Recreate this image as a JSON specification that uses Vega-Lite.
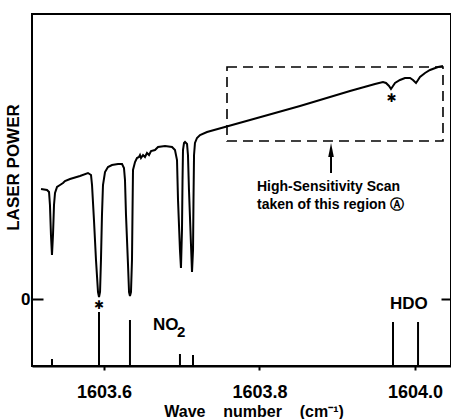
{
  "$schema": "https://vega.github.io/schema/vega-lite/v6.json",
  "autosize": "none",
  "width": 419,
  "height": 352,
  "padding": {"left": 32, "top": 14, "right": 0, "bottom": 53},
  "background": "white",
  "config": {
    "view": {"stroke": "black", "strokeWidth": 2},
    "font": "Liberation Sans",
    "axis": {"grid": false, "domainColor": "black", "domainWidth": 2, "tickColor": "black", "tickWidth": 2, "labelColor": "black", "titleColor": "black", "labelFont": "Liberation Sans", "titleFont": "Liberation Sans"}
  },
  "datasets": {
    "spectrum": [
      {"w": 1603.5190, "v": 110}, {"w": 1603.5267, "v": 109}, {"w": 1603.5293, "v": 107}, {"w": 1603.5305, "v": 94},
      {"w": 1603.5318, "v": 64}, {"w": 1603.5331, "v": 44}, {"w": 1603.5344, "v": 64}, {"w": 1603.5357, "v": 94},
      {"w": 1603.5370, "v": 106}, {"w": 1603.5396, "v": 112}, {"w": 1603.5434, "v": 114}, {"w": 1603.5473, "v": 116},
      {"w": 1603.5498, "v": 118}, {"w": 1603.5563, "v": 120}, {"w": 1603.5691, "v": 123}, {"w": 1603.5794, "v": 126},
      {"w": 1603.5833, "v": 124}, {"w": 1603.5846, "v": 114}, {"w": 1603.5871, "v": 79}, {"w": 1603.5897, "v": 39},
      {"w": 1603.5923, "v": 7}, {"w": 1603.5936, "v": 2}, {"w": 1603.5949, "v": 7}, {"w": 1603.5961, "v": 39},
      {"w": 1603.5974, "v": 84}, {"w": 1603.5987, "v": 114}, {"w": 1603.6013, "v": 127}, {"w": 1603.6051, "v": 132},
      {"w": 1603.6103, "v": 134}, {"w": 1603.6180, "v": 135}, {"w": 1603.6232, "v": 135}, {"w": 1603.6257, "v": 131},
      {"w": 1603.6270, "v": 119}, {"w": 1603.6283, "v": 84}, {"w": 1603.6309, "v": 34}, {"w": 1603.6322, "v": 7},
      {"w": 1603.6334, "v": 3}, {"w": 1603.6347, "v": 7}, {"w": 1603.6360, "v": 39}, {"w": 1603.6367, "v": 89},
      {"w": 1603.6373, "v": 129}, {"w": 1603.6399, "v": 137}, {"w": 1603.6424, "v": 141}, {"w": 1603.6450, "v": 142},
      {"w": 1603.6463, "v": 144}, {"w": 1603.6476, "v": 141}, {"w": 1603.6502, "v": 144}, {"w": 1603.6527, "v": 142},
      {"w": 1603.6553, "v": 146}, {"w": 1603.6579, "v": 144}, {"w": 1603.6605, "v": 148}, {"w": 1603.6656, "v": 149},
      {"w": 1603.6695, "v": 152}, {"w": 1603.6785, "v": 153}, {"w": 1603.6875, "v": 152}, {"w": 1603.6913, "v": 149},
      {"w": 1603.6939, "v": 139}, {"w": 1603.6952, "v": 99}, {"w": 1603.6977, "v": 49}, {"w": 1603.6990, "v": 31},
      {"w": 1603.7003, "v": 69}, {"w": 1603.7010, "v": 119}, {"w": 1603.7016, "v": 149}, {"w": 1603.7029, "v": 156},
      {"w": 1603.7042, "v": 157}, {"w": 1603.7068, "v": 155}, {"w": 1603.7080, "v": 144}, {"w": 1603.7093, "v": 109},
      {"w": 1603.7119, "v": 54}, {"w": 1603.7132, "v": 27}, {"w": 1603.7145, "v": 49}, {"w": 1603.7151, "v": 99},
      {"w": 1603.7158, "v": 144}, {"w": 1603.7170, "v": 156}, {"w": 1603.7196, "v": 161}, {"w": 1603.7235, "v": 164},
      {"w": 1603.7325, "v": 167}, {"w": 1603.7878, "v": 179}, {"w": 1603.8521, "v": 193}, {"w": 1603.9164, "v": 208},
      {"w": 1603.9486, "v": 215}, {"w": 1603.9588, "v": 217}, {"w": 1603.9627, "v": 216}, {"w": 1603.9666, "v": 213},
      {"w": 1603.9691, "v": 210}, {"w": 1603.9717, "v": 213}, {"w": 1603.9743, "v": 216}, {"w": 1603.9807, "v": 219},
      {"w": 1603.9871, "v": 221}, {"w": 1603.9936, "v": 221}, {"w": 1603.9974, "v": 219}, {"w": 1604.0013, "v": 216},
      {"w": 1604.0039, "v": 219}, {"w": 1604.0064, "v": 222}, {"w": 1604.0129, "v": 226}, {"w": 1604.0193, "v": 229},
      {"w": 1604.0296, "v": 232}, {"w": 1604.0360, "v": 233}
    ],
    "sticks": [
      {"w": 1603.5331, "v": -60}, {"w": 1603.5936, "v": -13}, {"w": 1603.6334, "v": -21},
      {"w": 1603.6977, "v": -55}, {"w": 1603.7145, "v": -56}, {"w": 1603.9717, "v": -23}, {"w": 1604.0039, "v": -23}
    ],
    "box": [{"w": 1603.7582, "w2": 1604.0360, "v": 158, "v2": 232}],
    "arrow": [{"w": 1603.8920, "v": 126, "v2": 150}],
    "arrowhead": [{"w": 1603.8920, "v": 149}],
    "stars": [{"w": 1603.5936, "v": -6, "t": "✱"}, {"w": 1603.9698, "v": 201, "t": "✱"}],
    "note": [
      {"w": 1603.7968, "v": 112, "t": "High-Sensitivity Scan"},
      {"w": 1603.7968, "v": 94, "t": "taken of this region Ⓐ"}
    ],
    "labels": [
      {"w": 1603.6630, "v": -26, "t": "NO"},
      {"w": 1603.9678, "v": -5, "t": "HDO"}
    ],
    "subs": [{"w": 1603.6939, "v": -33, "t": "2"}]
  },
  "resolve": {"axis": {"y": "independent"}},
  "layer": [
    {
      "data": {"name": "spectrum"},
      "mark": {"type": "line", "color": "black", "strokeWidth": 2, "clip": true},
      "encoding": {
        "x": {"field": "w", "type": "quantitative",
          "scale": {"domain": [1603.5074, 1604.0463], "nice": false, "zero": false},
          "axis": {"values": [1603.6, 1603.8, 1604.0], "format": ".1f", "tickSize": 4, "labelPadding": 13,
            "labelFontSize": 18, "labelFontWeight": "bold",
            "title": "Wave\u00a0\u00a0\u00a0\u00a0number\u00a0\u00a0\u00a0\u00a0(cm⁻¹)", "titleFontSize": 16, "titleFontWeight": "bold",
            "titleX": 221.5, "titleY": 45, "titleBaseline": "middle", "titleAnchor": null}},
        "y": {"field": "v", "type": "quantitative",
          "scale": {"domain": [-67, 285], "nice": false, "zero": false},
          "axis": {"values": [0], "offset": -11, "tickSize": 11, "domain": false, "labelPadding": 2, "labelFontSize": 17, "labelFontWeight": "bold",
            "title": "LASER POWER", "titleFontSize": 17, "titleFontWeight": "bold",
            "titleX": -30, "titleY": 153, "titleBaseline": "middle", "titleAlign": "center", "titleAngle": -90}}
      }
    },
    {
      "data": {"name": "sticks"},
      "mark": {"type": "rule", "color": "black", "strokeWidth": 2},
      "encoding": {
        "x": {"field": "w", "type": "quantitative"},
        "y": {"field": "v", "type": "quantitative",
          "axis": {"orient": "right", "values": [0], "labels": false, "offset": -10, "tickSize": 10, "domain": false, "title": null}},
        "y2": {"datum": -67}
      }
    },
    {
      "data": {"name": "box"},
      "mark": {"type": "rect", "fill": null, "fillOpacity": 0, "stroke": "black", "strokeWidth": 1.6, "strokeDash": [10, 6]},
      "encoding": {
        "x": {"field": "w", "type": "quantitative"},
        "x2": {"field": "w2"},
        "y": {"field": "v", "type": "quantitative", "axis": null},
        "y2": {"field": "v2"}
      }
    },
    {
      "data": {"name": "arrow"},
      "mark": {"type": "rule", "color": "black", "strokeWidth": 2},
      "encoding": {
        "x": {"field": "w", "type": "quantitative"},
        "y": {"field": "v", "type": "quantitative", "axis": null},
        "y2": {"field": "v2"}
      }
    },
    {
      "data": {"name": "arrowhead"},
      "mark": {"type": "point", "shape": "M0,-1L0.4,1L-0.4,1Z", "filled": true, "color": "black", "size": 196, "opacity": 1},
      "encoding": {
        "x": {"field": "w", "type": "quantitative"},
        "y": {"field": "v", "type": "quantitative", "axis": null}
      }
    },
    {
      "data": {"name": "stars"},
      "mark": {"type": "text", "font": "DejaVu Sans", "fontSize": 12, "fontWeight": "bold", "color": "black", "baseline": "middle", "align": "center"},
      "encoding": {
        "x": {"field": "w", "type": "quantitative"},
        "y": {"field": "v", "type": "quantitative", "axis": null},
        "text": {"field": "t"}
      }
    },
    {
      "data": {"name": "note"},
      "mark": {"type": "text", "fontSize": 14, "fontWeight": "bold", "color": "black", "baseline": "middle", "align": "left"},
      "encoding": {
        "x": {"field": "w", "type": "quantitative"},
        "y": {"field": "v", "type": "quantitative", "axis": null},
        "text": {"field": "t"}
      }
    },
    {
      "data": {"name": "labels"},
      "mark": {"type": "text", "fontSize": 17, "fontWeight": "bold", "color": "black", "baseline": "middle", "align": "left"},
      "encoding": {
        "x": {"field": "w", "type": "quantitative"},
        "y": {"field": "v", "type": "quantitative", "axis": null},
        "text": {"field": "t"}
      }
    },
    {
      "data": {"name": "subs"},
      "mark": {"type": "text", "fontSize": 15, "fontWeight": "bold", "color": "black", "baseline": "middle", "align": "left"},
      "encoding": {
        "x": {"field": "w", "type": "quantitative"},
        "y": {"field": "v", "type": "quantitative", "axis": null},
        "text": {"field": "t"}
      }
    }
  ]
}
